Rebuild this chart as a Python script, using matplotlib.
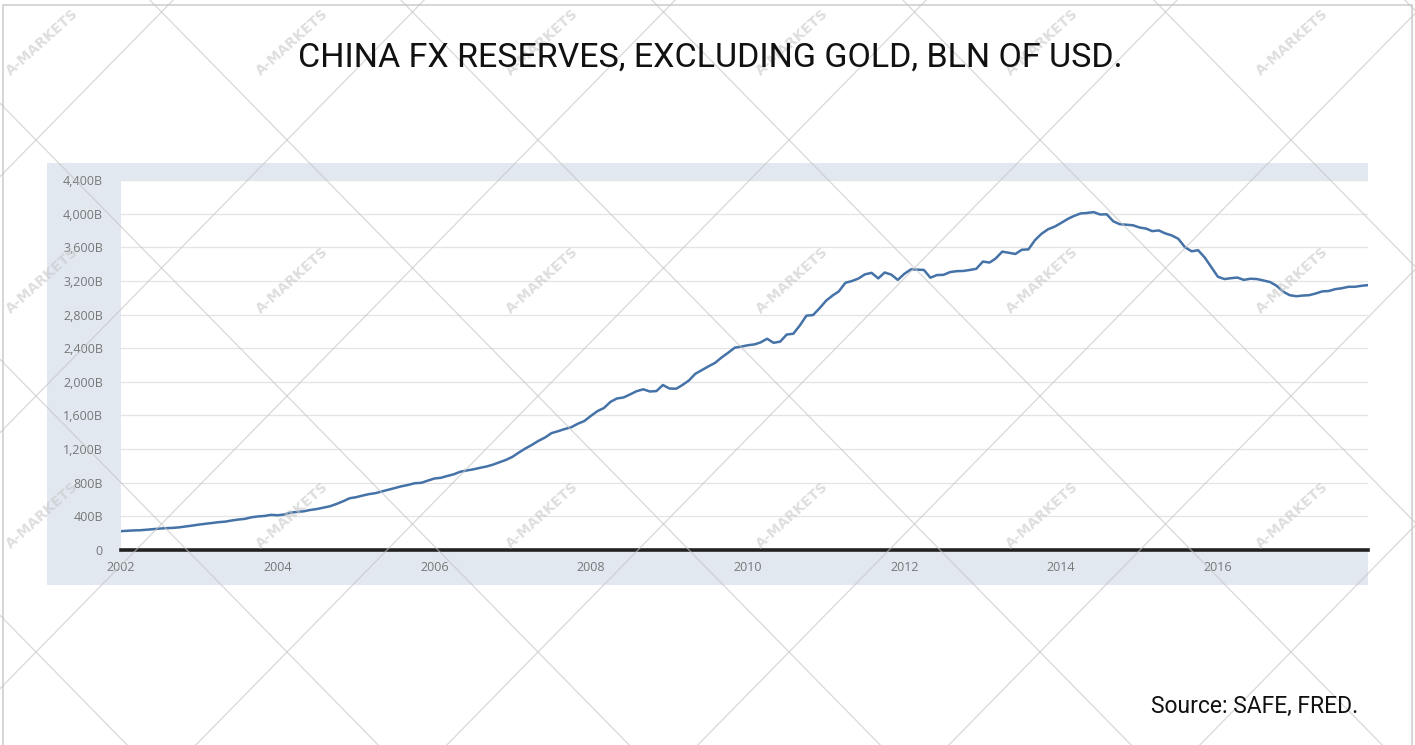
import pandas as pd
from matplotlib import pyplot as plt
from matplotlib.patches import Rectangle
from matplotlib.ticker import FuncFormatter
import matplotlib.dates as mdates

# Total reserves excluding gold, China, bln USD, monthly from Jan 2002
reserves = [
    224, 229, 233, 235, 241, 248, 255, 260, 263, 270, 280, 291,            # 2002
    303, 312, 321, 331, 337, 351, 362, 370, 389, 399, 405, 418,            # 2003
    413, 422, 445, 453, 460, 476, 487, 503, 520, 547, 579, 615,            # 2004
    628, 648, 664, 676, 696, 716, 738, 758, 774, 794, 799, 825,            # 2005
    850, 859, 880, 900, 930, 946, 959, 977, 993, 1015, 1044, 1072,         # 2006
    1110, 1163, 1207, 1251, 1298, 1338, 1390, 1413, 1439, 1460, 1502, 1534,  # 2007
    1596, 1653, 1688, 1762, 1802, 1814, 1850, 1889, 1911, 1885, 1890, 1962,  # 2008
    1920, 1918, 1960, 2015, 2095, 2140, 2183, 2225, 2290, 2345, 2406, 2418,  # 2009
    2435, 2445, 2468, 2512, 2464, 2478, 2562, 2572, 2672, 2786, 2794, 2874,  # 2010
    2965, 3028, 3075, 3178, 3198, 3229, 3278, 3296, 3230, 3300, 3275, 3212,  # 2011
    3285, 3338, 3334, 3330, 3238, 3270, 3272, 3305, 3316, 3318, 3330, 3344,  # 2012
    3430, 3418, 3466, 3548, 3535, 3520, 3570, 3575, 3686, 3760, 3815, 3845,  # 2013
    3890, 3938, 3972, 4002, 4008, 4018, 3990, 3992, 3908, 3874, 3868, 3862,  # 2014
    3835, 3822, 3792, 3800, 3765, 3740, 3700, 3600, 3552, 3565, 3478, 3365,  # 2015
    3250, 3222, 3232, 3240, 3212, 3226, 3222, 3205, 3186, 3142, 3072, 3030,  # 2016
    3018, 3026, 3030, 3050, 3075, 3080, 3102, 3113, 3130, 3130, 3142, 3150,  # 2017
]
dates = pd.date_range("2002-01-01", periods=len(reserves), freq="MS")

y_ticks = list(range(0, 4401, 400))
x_tick_years = list(range(2002, 2017, 2))

title = "CHINA FX RESERVES, EXCLUDING GOLD, BLN OF USD."
source = "Source: SAFE, FRED."

W, H = 1415, 745
fig = plt.figure(figsize=(W / 100, H / 100), dpi=100)

# background layer in pixel coords (y down)
bg = fig.add_axes([0, 0, 1, 1], zorder=0)
bg.set_xlim(0, W)
bg.set_ylim(H, 0)
bg.axis("off")
bg.add_patch(Rectangle((3, 5), W - 6, H - 4, facecolor="white", edgecolor="#cfcfcf", lw=1.2))
bg.add_patch(Rectangle((47, 163), 1368 - 47, 585 - 163, facecolor="#e1e8f0", edgecolor="none"))

# main chart
left, right, top, bottom = 121, 1368, 180, 550
ax = fig.add_axes([left / W, 1 - bottom / H, (right - left) / W, (bottom - top) / H], zorder=1)
ax.set_facecolor("white")
ax.plot(dates, reserves, color="#4572a7", lw=1.8, zorder=3)
ax.axhline(0, color="#222222", lw=2.6, zorder=4, clip_on=False)

ax.set_ylim(0, 4400)
ax.set_xlim(dates[0], dates[-1])
ax.set_yticks(y_ticks)
ax.yaxis.set_major_formatter(FuncFormatter(lambda v, p: "0" if v == 0 else f"{int(v):,}B"))
ax.set_xticks([pd.Timestamp(f"{y}-01-01") for y in x_tick_years])
ax.xaxis.set_major_formatter(mdates.DateFormatter("%Y"))
ax.grid(axis="y", color="#e4e4e4", lw=0.9)
ax.set_axisbelow(True)
for s in ax.spines.values():
    s.set_visible(False)
ax.tick_params(length=0, labelsize=9, labelcolor="#777777")
ax.tick_params(axis="y", pad=13)
ax.tick_params(axis="x", pad=8)
for lab in ax.get_xticklabels() + ax.get_yticklabels():
    lab.set_fontfamily("Open Sans")

# watermark overlay
ov = fig.add_axes([0, 0, 1, 1], zorder=2)
ov.set_xlim(0, W)
ov.set_ylim(H, 0)
ov.axis("off")
ov.patch.set_alpha(0)
slope = 1.02
for k in range(-8, 12):
    x0 = 36 + 251 * k
    ov.plot([0, W], [652 + slope * (0 - x0), 652 + slope * (W - x0)], color="#c4c4c4", lw=0.9, alpha=0.65)
    ov.plot([0, W], [652 - slope * (0 - x0), 652 - slope * (W - x0)], color="#c4c4c4", lw=0.9, alpha=0.65)
for row_y in [42, 280, 515]:
    for i in range(6):
        ov.text(42 + 250 * i, row_y, "A-MARKETS", rotation=42, fontsize=10, color="#c8c8c8",
                alpha=0.6, ha="center", va="center", fontweight="bold", family="DejaVu Sans")

fig.text(710 / W, 1 - 58 / H, title, fontsize=24.5, family="Roboto", ha="center", va="center", color="#111111")
fig.text(1358 / W, 1 - 706 / H, source, fontsize=16.5, family="Roboto", ha="right", va="center", color="#111111")

plt.savefig("out.png", dpi=100)
